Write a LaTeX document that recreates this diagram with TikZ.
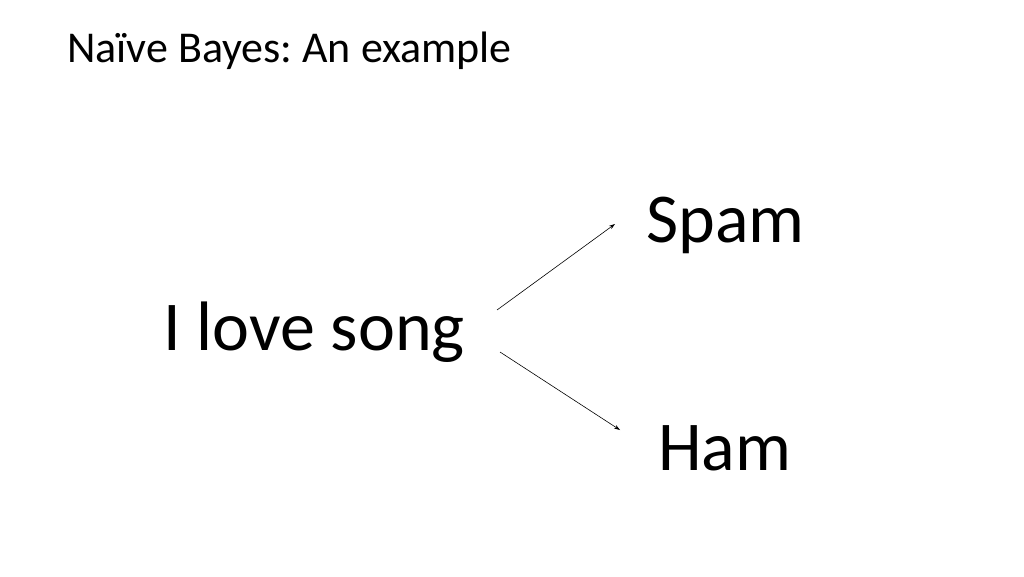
\documentclass[tikz,border=0pt]{standalone}
\usepackage{fontspec}
\setmainfont{Carlito}
\usetikzlibrary{arrows.meta,positioning}
\frenchspacing
\tikzset{
  word/.style={anchor=base west,inner sep=0pt,font=\fontsize{70}{74}\selectfont},
  link/.style={-{Stealth[length=6pt,width=4pt]},line width=0.6pt}
}
\begin{document}
\begin{tikzpicture}[x=1pt,y=-1pt]
\useasboundingbox (0,0) rectangle (1024,576);
% Title
\node[anchor=base west,inner sep=0pt,font=\fontsize{44}{46}\selectfont] (title) at (67,62) {Naïve Bayes: An example};

% Words
\node[word] (song) at (163,350) {I love song};
\node[word] (spam) at (646,242) {Spam};
\node[word] (ham) at (658,470) {Ham};

% Arrow ends
\coordinate (s1) at (497,310);
\coordinate (s2) at (615,224);
\coordinate (h1) at (500,352);
\coordinate (h2) at (620,430);

\draw[link] (s1) -- (s2);
\draw[link] (h1) -- (h2);
\end{tikzpicture}
\end{document}
